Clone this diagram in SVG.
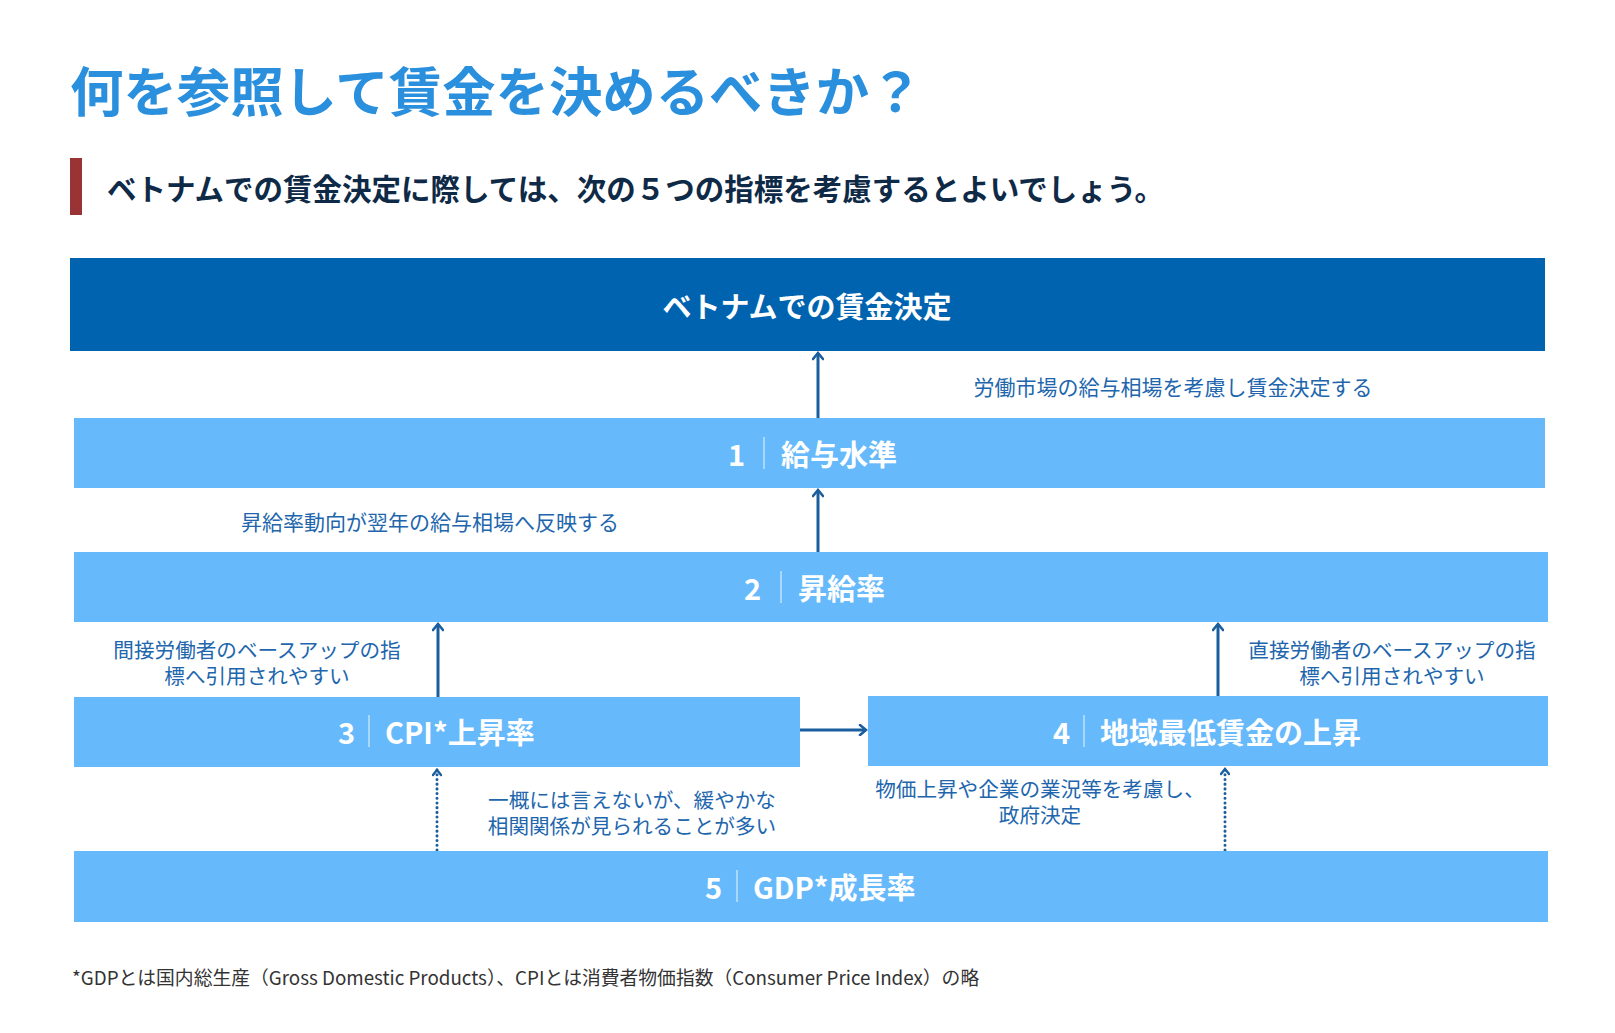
<svg xmlns="http://www.w3.org/2000/svg" width="1615" height="1033" viewBox="0 0 1615 1033">
  <defs>
    <style>
      text { font-family: "Noto Sans CJK JP", "Noto Sans", sans-serif; }
      .title { font-size: 53.4px; font-weight: 700; fill: #2A8FDD; }
      .sub { font-size: 29.5px; font-weight: 700; fill: #0E2A47; }
      .top { fill: #0063AF; }
      .box { fill: #66B9FA; }
      .bt { font-size: 29px; font-weight: 700; fill: #FFFFFF; }
      .sep { stroke: #FFFFFF; stroke-opacity: 0.75; stroke-width: 1.2; }
      .lbl { font-size: 21px; fill: #2166AD; }
      .lbl2 { font-size: 20.6px; fill: #2166AD; }
      .foot { font-size: 18.8px; fill: #333333; }
      .conn { stroke: #1B5E9E; stroke-width: 3; fill: none; }
      .dot { stroke: #1B5E9E; stroke-width: 3; fill: none; stroke-dasharray: 0.1 4.6; stroke-linecap: round; }
    </style>
    <marker id="arr" markerUnits="userSpaceOnUse" viewBox="0 0 12 12" refX="10" refY="6" markerWidth="12" markerHeight="12" orient="auto">
      <path d="M4,1 L10,6 L4,11" fill="none" stroke="#1B5E9E" stroke-width="2.6" stroke-linecap="round" stroke-linejoin="miter"/>
    </marker>
    <marker id="arrs" markerUnits="userSpaceOnUse" viewBox="0 0 10 10" refX="8" refY="5" markerWidth="10" markerHeight="10" orient="auto">
      <path d="M3,1 L8,5 L3,9" fill="none" stroke="#1B5E9E" stroke-width="2.4" stroke-linecap="round"/>
    </marker>
  </defs>
  <rect width="1615" height="1033" fill="#FFFFFF"/>

  <g id="header">
    <text class="title" x="70" y="88" dominant-baseline="central">何を参照して賃金を決めるべきか？</text>
    <rect x="70" y="158" width="12" height="57" fill="#9A3334"/>
    <text class="sub" x="107" y="187" dominant-baseline="central">ベトナムでの賃金決定に際しては、次の５つの指標を考慮するとよいでしょう。</text>
  </g>

  <g id="connectors">
    <line class="conn" x1="818" y1="418" x2="818" y2="353" marker-end="url(#arr)"/>
    <line class="conn" x1="818" y1="552" x2="818" y2="490" marker-end="url(#arr)"/>
    <line class="conn" x1="438" y1="697" x2="438" y2="624" marker-end="url(#arr)"/>
    <line class="conn" x1="1218" y1="696" x2="1218" y2="624" marker-end="url(#arr)"/>
    <line class="conn" x1="800" y1="730" x2="866" y2="730" marker-end="url(#arr)"/>
    <line class="dot" x1="437" y1="850" x2="437" y2="770" marker-end="url(#arrs)"/>
    <line class="dot" x1="1225" y1="850" x2="1225" y2="769" marker-end="url(#arrs)"/>
    <text class="lbl" x="1173" y="386" text-anchor="middle" dominant-baseline="central">労働市場の給与相場を考慮し賃金決定する</text>
    <text class="lbl" x="430" y="521" text-anchor="middle" dominant-baseline="central">昇給率動向が翌年の給与相場へ反映する</text>
    <text class="lbl2" x="257" y="648.5" text-anchor="middle" dominant-baseline="central">間接労働者のベースアップの指</text>
    <text class="lbl2" x="257" y="674.5" text-anchor="middle" dominant-baseline="central">標へ引用されやすい</text>
    <text class="lbl2" x="1392" y="648.5" text-anchor="middle" dominant-baseline="central">直接労働者のベースアップの指</text>
    <text class="lbl2" x="1392" y="674.5" text-anchor="middle" dominant-baseline="central">標へ引用されやすい</text>
    <text class="lbl2" x="632" y="798.5" text-anchor="middle" dominant-baseline="central">一概には言えないが、緩やかな</text>
    <text class="lbl2" x="632" y="824.5" text-anchor="middle" dominant-baseline="central">相関関係が見られることが多い</text>
    <text class="lbl2" x="1040" y="788" text-anchor="middle" dominant-baseline="central">物価上昇や企業の業況等を考慮し、</text>
    <text class="lbl2" x="1040" y="814" text-anchor="middle" dominant-baseline="central">政府決定</text>
  </g>

  <g id="node-top">
    <rect class="top" x="70" y="258" width="1475" height="93"/>
    <text class="bt" x="807" y="305" text-anchor="middle" dominant-baseline="central">ベトナムでの賃金決定</text>
  </g>

  <g id="node-1">
    <rect class="box" x="74" y="418" width="1471" height="70"/>
    <text class="bt" x="745" y="453" text-anchor="end" dominant-baseline="central">1</text>
    <line class="sep" x1="764" y1="437" x2="764" y2="469"/>
    <text class="bt" x="781" y="453" dominant-baseline="central">給与水準</text>
  </g>

  <g id="node-2">
    <rect class="box" x="74" y="552" width="1474" height="70"/>
    <text class="bt" x="761" y="587" text-anchor="end" dominant-baseline="central">2</text>
    <line class="sep" x1="781" y1="571" x2="781" y2="603"/>
    <text class="bt" x="798" y="587" dominant-baseline="central">昇給率</text>
  </g>

  <g id="node-3">
    <rect class="box" x="74" y="697" width="726" height="70"/>
    <text class="bt" x="355" y="731" text-anchor="end" dominant-baseline="central">3</text>
    <line class="sep" x1="369" y1="715" x2="369" y2="747"/>
    <text class="bt" x="385" y="731" dominant-baseline="central">CPI*上昇率</text>
  </g>

  <g id="node-4">
    <rect class="box" x="868" y="696" width="680" height="70"/>
    <text class="bt" x="1070" y="731" text-anchor="end" dominant-baseline="central">4</text>
    <line class="sep" x1="1084" y1="715" x2="1084" y2="747"/>
    <text class="bt" x="1100" y="731" dominant-baseline="central">地域最低賃金の上昇</text>
  </g>

  <g id="node-5">
    <rect class="box" x="74" y="851" width="1474" height="71"/>
    <text class="bt" x="722" y="886" text-anchor="end" dominant-baseline="central">5</text>
    <line class="sep" x1="737" y1="870" x2="737" y2="902"/>
    <text class="bt" x="753" y="886" dominant-baseline="central">GDP*成長率</text>
  </g>

  <g id="footnote">
    <text class="foot" x="72" y="976" dominant-baseline="central">*GDPとは国内総生産（Gross Domestic Products）、CPIとは消費者物価指数（Consumer Price Index）の略</text>
  </g>
</svg>
